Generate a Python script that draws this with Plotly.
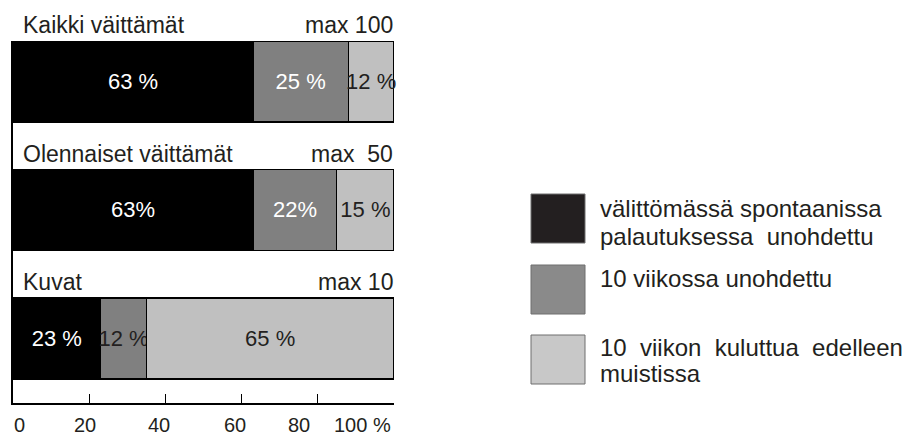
import plotly.graph_objects as go

# ---------------- data ----------------
categories = ["Kaikki väittämät", "Olennaiset väittämät", "Kuvat"]
max_labels = ["max 100", "max\u00a0\u00a050", "max 10"]
series_names = [
    "välittömässä spontaanissa<br>palautuksessa\u00a0\u00a0unohdettu",
    "10 viikossa unohdettu",
    "10\u00a0\u00a0viikon\u00a0\u00a0kuluttua\u00a0\u00a0edelleen<br>muistissa",
]
forgot_immediately = [63, 63, 23]
forgot_10_weeks = [25, 22, 12]
still_remembered = [12, 15, 65]
labels_immediately = ["63 %", "63%", "23 %"]
labels_10_weeks = ["25 %", "22%", "12 %"]
labels_remembered = ["12 %", "15 %", "65 %"]
tick_values = [0, 20, 40, 60, 80, 100]
tick_labels = ["0", "20", "40", "60", "80", "100 %"]

# ---------------- style ----------------
FONT = "Liberation Sans, Arial, Helvetica, sans-serif"
TXT = "#231f20"
bar_colors = ["#000000", "#808080", "#c0c0c0"]
legend_colors = ["#231f20", "#8a8a8a", "#c8c8c8"]
label_colors = [
    ["#ffffff", "#ffffff", "#ffffff"],
    ["#ffffff", "#ffffff", TXT],
    [TXT, TXT, TXT],
]
tick_label_shift = [6, -4, -6, -7, -19, -32]

# the page body adds an 8px margin; the figure is sized/offset to compensate
OFF = 8
W, H = 912 - OFF, 438 - OFF
ML, MT = 13 - OFF, 41 - OFF
PLOT_R, PLOT_B = 394 - OFF, 403 - OFF
MR, MB = W - PLOT_R, H - PLOT_B
PW, PH = W - ML - MR, H - MT - MB


def px_x(p):
    return (p - OFF - ML) / PW


def px_y(p):
    return (H - MB - (p - OFF)) / PH


fig = go.Figure()
series_values = [forgot_immediately, forgot_10_weeks, still_remembered]
series_labels = [labels_immediately, labels_10_weeks, labels_remembered]
for i in range(3):
    fig.add_trace(go.Bar(
        x=series_values[i], y=categories, orientation="h",
        name=series_names[i], width=0.63,
        marker=dict(color=bar_colors[i], line=dict(color="#000000", width=1.2)),
        text=series_labels[i], textposition="inside", insidetextanchor="middle",
        textangle=0, constraintext="none",
        textfont=dict(family=FONT, size=22, color=label_colors[i]),
        cliponaxis=False, showlegend=False,
    ))

annotations = []
for c, m in zip(categories, max_labels):
    annotations.append(dict(x=0, y=c, xref="x", yref="y", text=c, showarrow=False,
                            xanchor="left", yanchor="middle", xshift=8, yshift=56,
                            font=dict(family=FONT, size=23, color=TXT)))
    annotations.append(dict(x=100, y=c, xref="x", yref="y", text=m, showarrow=False,
                            xanchor="right", yanchor="middle", xshift=1, yshift=56,
                            font=dict(family=FONT, size=23, color=TXT)))

for v, t, s in zip(tick_values, tick_labels, tick_label_shift):
    annotations.append(dict(x=v, y=0, xref="x", yref="paper", text=t, showarrow=False,
                            xanchor="center", yanchor="middle", xshift=s, yshift=-22,
                            font=dict(family=FONT, size=20, color=TXT)))

# legend drawn as large swatches
box_tops = [194, 265, 335]
box_size = (54, 49)
text_lines_y = [[208, 236], [278], [347, 373]]
shapes = []
for i in range(3):
    top = box_tops[i]
    shapes.append(dict(type="rect", xref="paper", yref="paper",
                       x0=px_x(531), x1=px_x(531 + box_size[0]),
                       y0=px_y(top + box_size[1]), y1=px_y(top),
                       fillcolor=legend_colors[i], line=dict(color="#6e6e6e", width=1)))
    for line, yy in zip(series_names[i].split("<br>"), text_lines_y[i]):
        annotations.append(dict(x=px_x(598), y=px_y(yy), xref="paper", yref="paper",
                                text=line, showarrow=False, xanchor="left", yanchor="middle",
                                font=dict(family=FONT, size=24, color=TXT)))

fig.update_layout(
    width=W, height=H, barmode="stack",
    margin=dict(l=ML, r=MR, t=MT, b=MB, pad=0),
    paper_bgcolor="white", plot_bgcolor="white",
    annotations=annotations, shapes=shapes,
    xaxis=dict(range=[0, 100], tickvals=tick_values, showticklabels=False,
               ticks="inside", ticklen=9, tickwidth=1.3, tickcolor="#000",
               showline=True, linecolor="#000", linewidth=1.5,
               showgrid=False, zeroline=False, fixedrange=True),
    yaxis=dict(type="category", categoryorder="array", categoryarray=categories,
               range=[2.502, -0.315], showticklabels=False, ticks="",
               showline=True, linecolor="#000", linewidth=1.5,
               showgrid=False, zeroline=False, fixedrange=True),
    showlegend=False,
)

fig.write_html("out.html")
